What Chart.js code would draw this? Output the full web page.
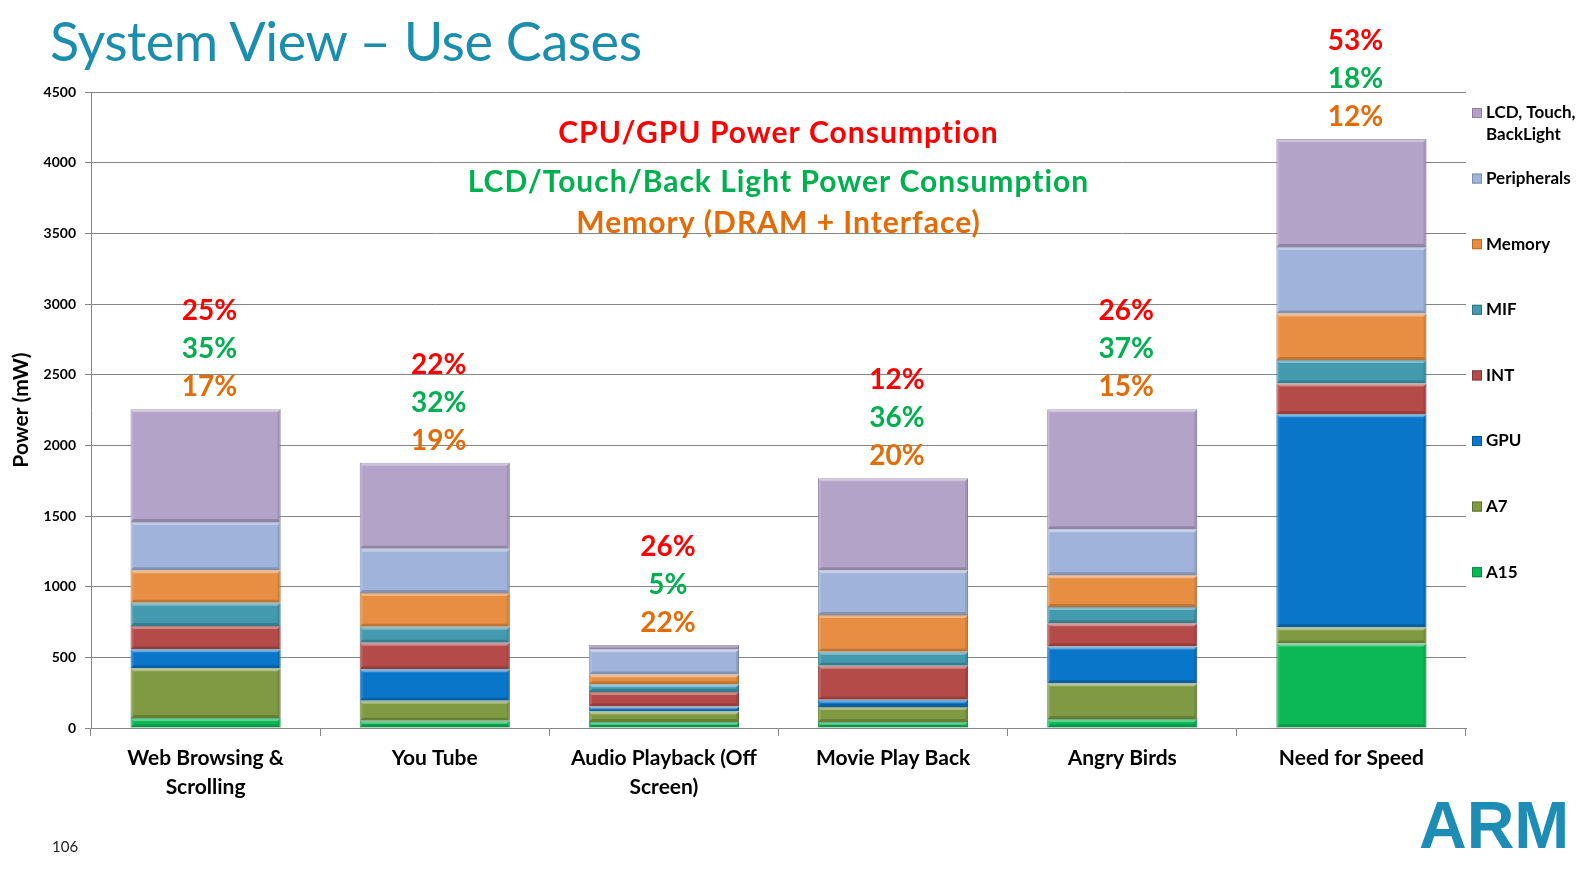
<!DOCTYPE html>
<html>
<head>
<meta charset="utf-8">
<script src="https://cdn.jsdelivr.net/npm/chart.js@4"></script>
<style>
  html, body { margin: 0; padding: 0; background: #fff; }
  body { width: 1592px; height: 869px; position: relative; overflow: hidden; font-family: Lato, 'Open Sans', sans-serif; }
  #chart { position: absolute; left: 0; top: 0; }
  .title { position: absolute; left: 50px; top: 8px; font-size: 54px; color: #1b8ead; font-weight: 400; letter-spacing: -0.5px; }
  .page { position: absolute; left: 52px; top: 837px; font-size: 15px; color: #222; }
  .logo { position: absolute; left: 1419px; top: 787px; font-family: 'Liberation Sans', Arial, sans-serif; font-weight: 700; font-size: 66px; color: #1e8db5; letter-spacing: 0px; }
</style>
</head>
<body>
<canvas id="chart" width="1592" height="869"></canvas>
<div class="title">System View – Use Cases</div>
<div class="page">106</div>
<div class="logo">ARM</div>
<script>
// use cases along the x axis
const categories = [
  ['Web Browsing &', 'Scrolling'],
  'You Tube',
  ['Audio Playback (Off', 'Screen)'],
  'Movie Play Back',
  'Angry Birds',
  'Need for Speed'
];

// power per block, mW
const a15 = [70, 51, 42, 42, 63, 597];
const a7 = [353, 142, 75, 106, 254, 115];
const gpu = [134, 223, 35, 52, 260, 1508];
const intc = [164, 188, 102, 241, 164, 217];
const mif = [165, 113, 56, 99, 115, 167];
const memory = [230, 239, 68, 259, 225, 329];
const peripherals = [341, 313, 180, 317, 326, 470];
const lcd = [799, 607, 29, 651, 848, 764];

// share labels above each bar
const cpuGpuPct = ['25%', '22%', '26%', '12%', '26%', '53%'];
const lcdPct = ['35%', '32%', '5%', '36%', '37%', '18%'];
const memPct = ['17%', '19%', '22%', '20%', '15%', '12%'];

const yTicks = [0, 500, 1000, 1500, 2000, 2500, 3000, 3500, 4000, 4500];

const RED = '#ff0000', GREEN = '#00b050', ORANGE = '#e36c09';
const FONT = 'Lato, "Open Sans", sans-serif';

const series = [
  { label: 'A15', data: a15, color: '#0cb856', edge: '#078a3e' },
  { label: 'A7', data: a7, color: '#7f9a43', edge: '#5f7530' },
  { label: 'GPU', data: gpu, color: '#0976ca', edge: '#055696' },
  { label: 'INT', data: intc, color: '#b54b49', edge: '#8a3433' },
  { label: 'MIF', data: mif, color: '#4399ae', edge: '#2d7486' },
  { label: 'Memory', data: memory, color: '#e88e42', edge: '#b86a2a' },
  { label: 'Peripherals', data: peripherals, color: '#a0b3da', edge: '#7a8eb6' },
  { label: ['LCD, Touch,', 'BackLight'], data: lcd, color: '#b3a3c8', edge: '#8d7ca3' }
];

// soft bevel on every bar segment, like the office 3D style
const bevel = {
  id: 'bevel',
  afterDatasetsDraw(chart) {
    const ctx = chart.ctx;
    ctx.save();
    chart.data.datasets.forEach((ds, di) => {
      chart.getDatasetMeta(di).data.forEach(bar => {
        const { x, y, base, width } = bar.getProps(['x', 'y', 'base', 'width'], true);
        const l = x - width / 2, r = x + width / 2, t = Math.min(y, base), b = Math.max(y, base);
        if (b - t < 4) return;
        const d = 3;
        ctx.fillStyle = 'rgba(255,255,255,0.35)';
        ctx.beginPath(); ctx.moveTo(l, t); ctx.lineTo(r, t); ctx.lineTo(r - d, t + d); ctx.lineTo(l + d, t + d); ctx.closePath(); ctx.fill();
        ctx.fillStyle = 'rgba(0,0,0,0.18)';
        ctx.beginPath(); ctx.moveTo(l, b); ctx.lineTo(r, b); ctx.lineTo(r - d, b - d); ctx.lineTo(l + d, b - d); ctx.closePath(); ctx.fill();
        ctx.fillStyle = 'rgba(0,0,0,0.10)';
        ctx.beginPath(); ctx.moveTo(r, t); ctx.lineTo(r, b); ctx.lineTo(r - d, b - d); ctx.lineTo(r - d, t + d); ctx.closePath(); ctx.fill();
        ctx.fillStyle = 'rgba(255,255,255,0.12)';
        ctx.beginPath(); ctx.moveTo(l, t); ctx.lineTo(l, b); ctx.lineTo(l + d, b - d); ctx.lineTo(l + d, t + d); ctx.closePath(); ctx.fill();
      });
    });
    ctx.restore();
  }
};

const overlay = {
  id: 'overlay',
  afterDatasetsDraw(chart) {
    const { ctx, scales: { x, y }, chartArea } = chart;
    ctx.save();
    ctx.textAlign = 'center';
    ctx.textBaseline = 'middle';

    // percentages above each bar
    ctx.font = 'bold 28px ' + FONT;
    categories.forEach((c, i) => {
      const total = series.reduce((s, d) => s + d.data[i], 0);
      const top = y.getPixelForValue(total);
      const cx = x.getPixelForValue(i) + 4;
      ctx.fillStyle = ORANGE; ctx.fillText(memPct[i], cx, top - 22);
      ctx.fillStyle = GREEN; ctx.fillText(lcdPct[i], cx, top - 60);
      ctx.fillStyle = RED; ctx.fillText(cpuGpuPct[i], cx, top - 98);
    });

    // key to the colours of the percentages
    const mid = (chartArea.left + chartArea.right) / 2;
    ctx.font = 'bold 30px ' + FONT;
    ctx.letterSpacing = '1px';
    ctx.fillStyle = RED; ctx.fillText('CPU/GPU Power Consumption', mid, 133);
    ctx.fillStyle = GREEN; ctx.fillText('LCD/Touch/Back Light Power Consumption', mid, 182);
    ctx.fillStyle = ORANGE; ctx.fillText('Memory (DRAM + Interface)', mid, 223);
    ctx.letterSpacing = '0px';

    // legend, top item first
    ctx.textAlign = 'left';
    ctx.font = 'bold 17px ' + FONT;
    const rev = [...series].reverse();
    rev.forEach((s, k) => {
      const yy = 113 + k * 65.6;
      ctx.fillStyle = s.color;
      ctx.fillRect(1472, yy - 5, 10, 10);
      ctx.strokeStyle = s.edge;
      ctx.lineWidth = 1;
      ctx.strokeRect(1472.5, yy - 4.5, 9, 9);
      ctx.fillStyle = '#000';
      const lines = Array.isArray(s.label) ? s.label : [s.label];
      lines.forEach((t, j) => ctx.fillText(t, 1486, yy + j * 22));
    });
    ctx.restore();
  }
};

new Chart(document.getElementById('chart'), {
  type: 'bar',
  data: {
    labels: categories,
    datasets: series.map(s => ({
      label: Array.isArray(s.label) ? s.label.join(' ') : s.label,
      data: s.data,
      backgroundColor: s.color,
      borderColor: s.edge,
      borderWidth: 1,
      categoryPercentage: 1,
      barPercentage: 0.655
    }))
  },
  options: {
    responsive: false,
    animation: false,
    layout: { padding: { left: 0, top: 92, right: 126, bottom: 0 } },
    plugins: {
      legend: { display: false },
      tooltip: { enabled: false }
    },
    scales: {
      x: {
        stacked: true,
        afterFit: s => { s.height = 141; },
        grid: { drawOnChartArea: false, drawTicks: true, tickLength: 8, color: '#868686' },
        border: { color: '#868686' },
        ticks: { color: '#000', font: { family: FONT, size: 21, weight: 'bold', lineHeight: 1.38 }, padding: 8, maxRotation: 0, autoSkip: false }
      },
      y: {
        stacked: true,
        min: 0,
        max: 4500,
        afterFit: s => { s.width = 91; },
        afterBuildTicks: s => { s.ticks = yTicks.map(v => ({ value: v })); },
        grid: { color: '#868686', tickLength: 6 },
        border: { color: '#868686' },
        ticks: { color: '#000', font: { family: FONT, size: 14, weight: 'bold' }, padding: 9, callback: v => String(v) },
        title: { display: true, text: 'Power (mW)', color: '#000', font: { family: FONT, size: 21, weight: 'bold' }, padding: { top: 9, bottom: 0 } }
      }
    }
  },
  plugins: [bevel, overlay]
});
</script>
</body>
</html>
